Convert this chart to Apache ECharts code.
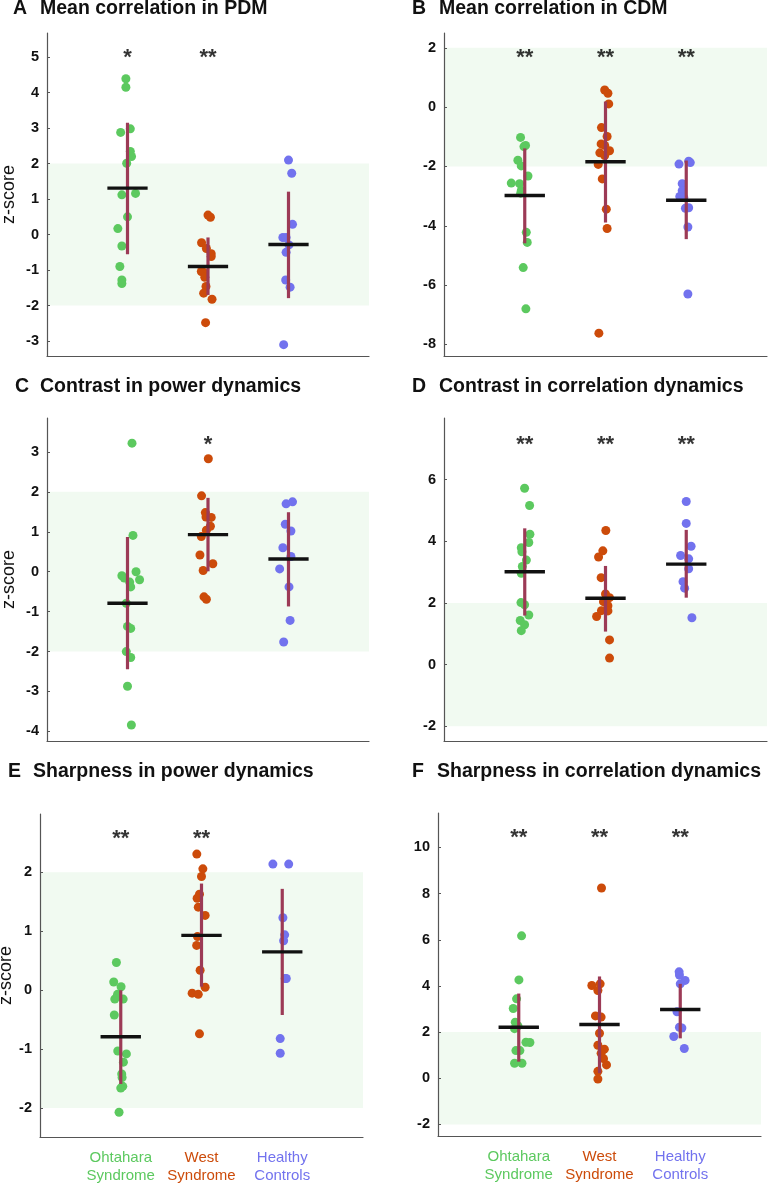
<!DOCTYPE html>
<html><head><meta charset="utf-8">
<script src="https://cdn.jsdelivr.net/npm/echarts@6/dist/echarts.min.js"></script>
<style>html,body{margin:0;padding:0;background:#fff}#c{width:770px;height:1184px}</style>
</head><body><div id="c"></div>
<script>
// ---------- DATA ----------
const groupNames = ['Ohtahara\nSyndrome', 'West\nSyndrome', 'Healthy\nControls'];
const groupPos = [1, 2, 3];

// Panel A: Mean correlation in PDM
const A_os = [[0.98,4.39],[0.98,4.15],[0.915,2.88],[1.035,2.98],[1.035,2.34],[1.05,2.2],[0.99,2.01],[0.93,1.12],[1.10,1.16],[1.0,0.5],[0.88,0.17],[0.93,-0.32],[0.905,-0.9],[0.93,-1.28],[0.93,-1.38]];
const A_ws = [[2.0,0.55],[2.03,0.49],[1.92,-0.23],[1.98,-0.39],[2.04,-0.54],[2.04,-0.62],[1.917,-1.04],[1.95,-1.07],[1.96,-1.2],[1.975,-1.46],[1.946,-1.65],[2.05,-1.82],[1.97,-2.48]];
const A_hc = [[3.0,2.1],[3.04,1.73],[3.05,0.29],[2.93,-0.08],[2.97,-0.08],[3.006,-0.29],[2.97,-0.5],[2.965,-1.28],[3.02,-1.48],[2.94,-3.1]];
const meanA = [1.31,-0.9,-0.28], hiA = [3.15,-0.08,1.21], loA = [-0.55,-1.7,-1.79];
const starsA = ['*','**',''], starYA = 5.11, ticksA = [-3,-2,-1,0,1,2,3,4,5];

// Panel B: Mean correlation in CDM
const B_os = [[0.948,-1.02],[1.01,-1.29],[0.99,-1.33],[0.915,-1.79],[0.957,-1.98],[1.04,-2.32],[0.833,-2.56],[0.936,-2.58],[0.957,-2.81],[0.95,-2.9],[1.019,-4.22],[1.031,-4.56],[0.981,-5.41],[1.014,-6.8]];
const B_ws = [[1.99,0.58],[2.03,0.47],[2.04,0.11],[1.95,-0.69],[2.02,-0.99],[1.946,-1.24],[1.99,-1.29],[1.93,-1.54],[2.05,-1.47],[1.99,-1.63],[1.91,-1.93],[1.96,-2.42],[2.01,-3.44],[2.02,-4.09],[1.918,-7.62]];
const B_hc = [[2.91,-1.92],[3.03,-1.82],[3.05,-1.87],[2.95,-2.58],[2.95,-2.82],[2.92,-3.01],[2.97,-3.05],[3.03,-3.39],[2.99,-3.41],[3.02,-4.04],[3.02,-6.3]];
const meanB = [-2.98,-1.84,-3.14], hiB = [-1.39,0.19,-1.8], loB = [-4.59,-3.89,-4.45];
const starsB = ['**','**','**'], starYB = 1.82, ticksB = [-8,-6,-4,-2,0,2];

// Panel C: Contrast in power dynamics
const C_os = [[1.056,3.22],[1.068,0.91],[1.106,0.0],[0.93,-0.1],[0.96,-0.16],[1.027,-0.26],[1.15,-0.2],[1.04,-0.38],[0.985,-0.79],[1.0,-1.37],[1.04,-1.42],[0.985,-2.0],[1.04,-2.15],[1.0,-2.87],[1.048,-3.84]];
const C_ws = [[2.004,2.83],[1.92,1.9],[1.967,1.48],[1.975,1.37],[2.04,1.36],[2.03,1.14],[1.98,1.04],[1.917,0.88],[1.9,0.42],[2.06,0.2],[1.94,0.03],[1.95,-0.63],[1.98,-0.69]];
const C_hc = [[2.97,1.7],[3.05,1.75],[2.96,1.19],[3.03,1.02],[2.93,0.6],[3.03,0.38],[2.89,0.07],[3.006,-0.38],[3.02,-1.22],[2.94,-1.76]];
const meanC = [-0.79,0.93,0.32], hiC = [0.87,1.85,1.49], loC = [-2.44,0.01,-0.87];
const starsC = ['','*',''], starYC = 3.31, ticksC = [-4,-3,-2,-1,0,1,2,3];

// Panel D: Contrast in correlation dynamics
const D_os = [[0.998,5.72],[1.06,5.16],[1.064,4.23],[1.05,3.96],[0.957,3.79],[0.965,3.66],[1.02,3.39],[0.97,3.18],[0.957,2.96],[0.953,2.01],[0.998,1.94],[1.05,1.61],[0.944,1.43],[0.998,1.29],[0.957,1.1]];
const D_ws = [[2.004,4.35],[1.967,3.69],[1.914,3.49],[1.946,2.82],[2.0,2.29],[2.05,2.17],[1.975,2.04],[2.03,1.91],[1.95,1.75],[2.03,1.74],[1.89,1.56],[2.05,0.8],[2.05,0.21]];
const D_hc = [[3.0,5.29],[3.0,4.58],[3.06,3.84],[2.93,3.54],[3.03,3.43],[3.03,3.11],[2.96,2.69],[2.98,2.48],[3.07,1.52]];
const meanD = [3.01,2.15,3.26], hiD = [4.42,3.2,4.37], loD = [1.59,1.07,2.17];
const starsD = ['**','**','**'], starYD = 7.29, ticksD = [-2,0,2,4,6];

// Panel E: Sharpness in power dynamics
const E_os = [[0.946,0.47],[0.913,0.14],[1.004,0.06],[0.96,-0.07],[0.926,-0.15],[1.03,-0.15],[0.92,-0.42],[0.963,-1.03],[1.07,-1.08],[1.033,-1.22],[1.012,-1.42],[1.017,-1.48],[1.025,-1.63],[1.0,-1.66],[0.979,-2.07]];
const E_ws = [[1.942,2.31],[2.017,2.06],[2.0,1.93],[1.975,1.63],[1.946,1.56],[1.96,1.41],[2.045,1.27],[1.95,0.91],[1.94,0.76],[1.983,0.34],[2.045,0.05],[1.884,-0.05],[1.96,-0.07],[1.975,-0.74]];
const E_hc = [[2.884,2.14],[3.08,2.14],[3.008,1.23],[3.03,0.94],[3.017,0.84],[3.037,0.2],[3.05,0.2],[2.975,-0.82],[2.975,-1.07]];
const meanE = [-0.79,0.93,0.65], hiE = [0.0,1.81,1.72], loE = [-1.59,0.06,-0.42];
const starsE = ['**','**',''], starYE = 2.66, ticksE = [-2,-1,0,1,2];

// Panel F: Sharpness in correlation dynamics
const F_os = [[1.035,6.17],[1.002,4.26],[0.973,3.44],[0.932,3.02],[0.957,2.43],[0.948,2.15],[0.99,2.27],[1.089,1.56],[1.138,1.55],[0.965,1.2],[1.014,1.2],[0.948,0.65],[1.04,0.65]];
const F_ws = [[2.025,8.24],[1.905,4.02],[2.008,4.09],[1.98,3.8],[1.95,2.7],[2.02,2.65],[2.0,1.95],[1.98,1.43],[2.06,1.26],[2.02,1.08],[2.05,0.85],[2.087,0.58],[1.98,0.3],[1.98,-0.03]];
const F_hc = [[2.986,4.61],[2.99,4.47],[3.06,4.24],[3.0,4.09],[2.96,2.88],[2.99,2.21],[3.02,2.18],[2.92,1.81],[3.05,1.29]];
const meanF = [2.21,2.33,2.98], hiF = [3.67,4.41,4.09], loF = [0.72,0.22,1.73];
const starsF = ['**','**','**'], starYF = 10.63, ticksF = [-2,0,2,4,6,8,10];

// ---------- STYLE / LAYOUT ----------
const COLORS = ['#5cc95f', '#cc4b0a', '#7272ee'];
const BAR = '#9c3a56', MEAN = '#111111', BAND = '#f1faf1', AXIS = '#555555';
const FONT = 'Liberation Sans, Arial, Helvetica, sans-serif';

const panels = [
  {L:'A', t:'Mean correlation in PDM', g:{left:47,top:33,width:322,height:323}, ymin:-3.42, ymax:5.68, ticks:ticksA, pts:[A_os,A_ws,A_hc], mean:meanA, hi:hiA, lo:loA, stars:starsA, starY:starYA, yname:true, ng:29, xlab:false, lx:13, tx:40, ty:-1},
  {L:'B', t:'Mean correlation in CDM', g:{left:444,top:33,width:323,height:323}, ymin:-8.39, ymax:2.5, ticks:ticksB, pts:[B_os,B_ws,B_hc], mean:meanB, hi:hiB, lo:loB, stars:starsB, starY:starYB, yname:false, ng:0, xlab:false, lx:412, tx:439, ty:-1},
  {L:'C', t:'Contrast in power dynamics', g:{left:47,top:418,width:322,height:323}, ymin:-4.24, ymax:3.85, ticks:ticksC, pts:[C_os,C_ws,C_hc], mean:meanC, hi:hiC, lo:loC, stars:starsC, starY:starYC, yname:true, ng:29, xlab:false, lx:15, tx:40, ty:377},
  {L:'D', t:'Contrast in correlation dynamics', g:{left:444,top:418,width:323,height:323}, ymin:-2.48, ymax:8.0, ticks:ticksD, pts:[D_os,D_ws,D_hc], mean:meanD, hi:hiD, lo:loD, stars:starsD, starY:starYD, yname:false, ng:0, xlab:false, lx:412, tx:439, ty:377},
  {L:'E', t:'Sharpness in power dynamics', g:{left:40,top:814,width:323,height:323}, ymin:-2.49, ymax:2.99, ticks:ticksE, pts:[E_os,E_ws,E_hc], mean:meanE, hi:hiE, lo:loE, stars:starsE, starY:starYE, yname:true, ng:22, xlab:true, lx:8, tx:33, ty:762},
  {L:'F', t:'Sharpness in correlation dynamics', g:{left:438,top:813,width:323,height:323}, ymin:-2.5, ymax:11.49, ticks:ticksF, pts:[F_os,F_ws,F_hc], mean:meanF, hi:hiF, lo:loF, stars:starsF, starY:starYF, yname:false, ng:0, xlab:true, lx:412, tx:437, ty:762}
];

const grid = [], xAxis = [], yAxis = [], series = [], graphic = [];
const rich = {};
COLORS.forEach((c, i) => { rich['c' + i] = {color: c, fontSize: 15, fontFamily: FONT, lineHeight: 18}; });

panels.forEach((p, k) => {
  grid.push(Object.assign({containLabel: false, outerBoundsMode: 'none'}, p.g));
  xAxis.push({
    type: 'value', gridIndex: k, min: 0, max: 4, z: 10,
    axisLine: {show: true, onZero: false, lineStyle: {color: AXIS, width: 1.2}},
    axisTick: {show: false}, splitLine: {show: false},
    axisLabel: p.xlab ? {
      show: true, customValues: groupPos, margin: 12,
      formatter: v => { const i = groupPos.indexOf(Math.round(v)); return i < 0 ? '' : groupNames[i].split('\n').map(l => '{c' + i + '|' + l + '}').join('\n'); },
      rich: rich
    } : {show: false}
  });
  yAxis.push({
    type: 'value', gridIndex: k, min: p.ymin, max: p.ymax, z: 10,
    name: p.yname ? 'z-score' : '', nameLocation: 'middle', nameRotate: 90, nameGap: p.ng,
    nameTextStyle: {fontSize: 18, fontFamily: FONT, color: '#111'},
    axisLine: {show: true, onZero: false, lineStyle: {color: AXIS, width: 1.2}},
    axisTick: {show: true, inside: true, length: 3, customValues: p.ticks, lineStyle: {color: AXIS}},
    axisLabel: {show: true, customValues: p.ticks, fontSize: 14.5, fontWeight: 'bold', fontFamily: FONT, color: '#111', margin: 8},
    splitLine: {show: false}
  });
  // shaded normal range band
  series.push({
    type: 'scatter', xAxisIndex: k, yAxisIndex: k, data: [], silent: true, z: 0,
    markArea: {silent: true, z: 0, itemStyle: {color: BAND}, data: [[{xAxis: 0, yAxis: -2}, {xAxis: 4, yAxis: 2}]]}
  });
  p.pts.forEach((arr, gi) => {
    series.push({
      type: 'scatter', xAxisIndex: k, yAxisIndex: k, data: arr, symbolSize: 9, z: 2,
      itemStyle: {color: COLORS[gi], opacity: 1}
    });
  });
  // error bars
  series.push({
    type: 'custom', xAxisIndex: k, yAxisIndex: k, z: 3, silent: true,
    data: groupPos.map((c, i) => [c, p.lo[i], p.hi[i]]),
    renderItem: (params, api) => {
      const a = api.coord([api.value(0), api.value(1)]);
      const b = api.coord([api.value(0), api.value(2)]);
      return {type: 'line', shape: {x1: a[0], y1: a[1], x2: b[0], y2: b[1]}, style: {stroke: BAR, lineWidth: 3.2}};
    }
  });
  // mean lines
  series.push({
    type: 'custom', xAxisIndex: k, yAxisIndex: k, z: 4, silent: true,
    data: groupPos.map((c, i) => [c, p.mean[i]]),
    renderItem: (params, api) => {
      const a = api.coord([api.value(0) - 0.25, api.value(1)]);
      const b = api.coord([api.value(0) + 0.25, api.value(1)]);
      return {type: 'line', shape: {x1: a[0], y1: a[1], x2: b[0], y2: b[1]}, style: {stroke: MEAN, lineWidth: 3.4}};
    }
  });
  // significance stars
  series.push({
    type: 'scatter', xAxisIndex: k, yAxisIndex: k, z: 5, silent: true, symbolSize: 1,
    itemStyle: {color: 'rgba(0,0,0,0)'},
    data: groupPos.map((c, i) => [c, p.starY, p.stars[i]]),
    label: {show: true, position: 'inside', formatter: q => q.data[2], fontSize: 22, fontWeight: 'bold', fontFamily: FONT, color: '#000', offset: [0, 5]}
  });
  graphic.push({type: 'text', left: p.lx, top: p.ty, style: {text: p.L, font: 'bold 19.5px ' + FONT, fill: '#111'}});
  graphic.push({type: 'text', left: p.tx, top: p.ty, style: {text: p.t, font: 'bold 19.5px ' + FONT, fill: '#111'}});
});

const chart = echarts.init(document.getElementById('c'), null, {renderer: 'canvas'});
chart.setOption({animation: false, grid, xAxis, yAxis, series, graphic});
</script></body></html>
